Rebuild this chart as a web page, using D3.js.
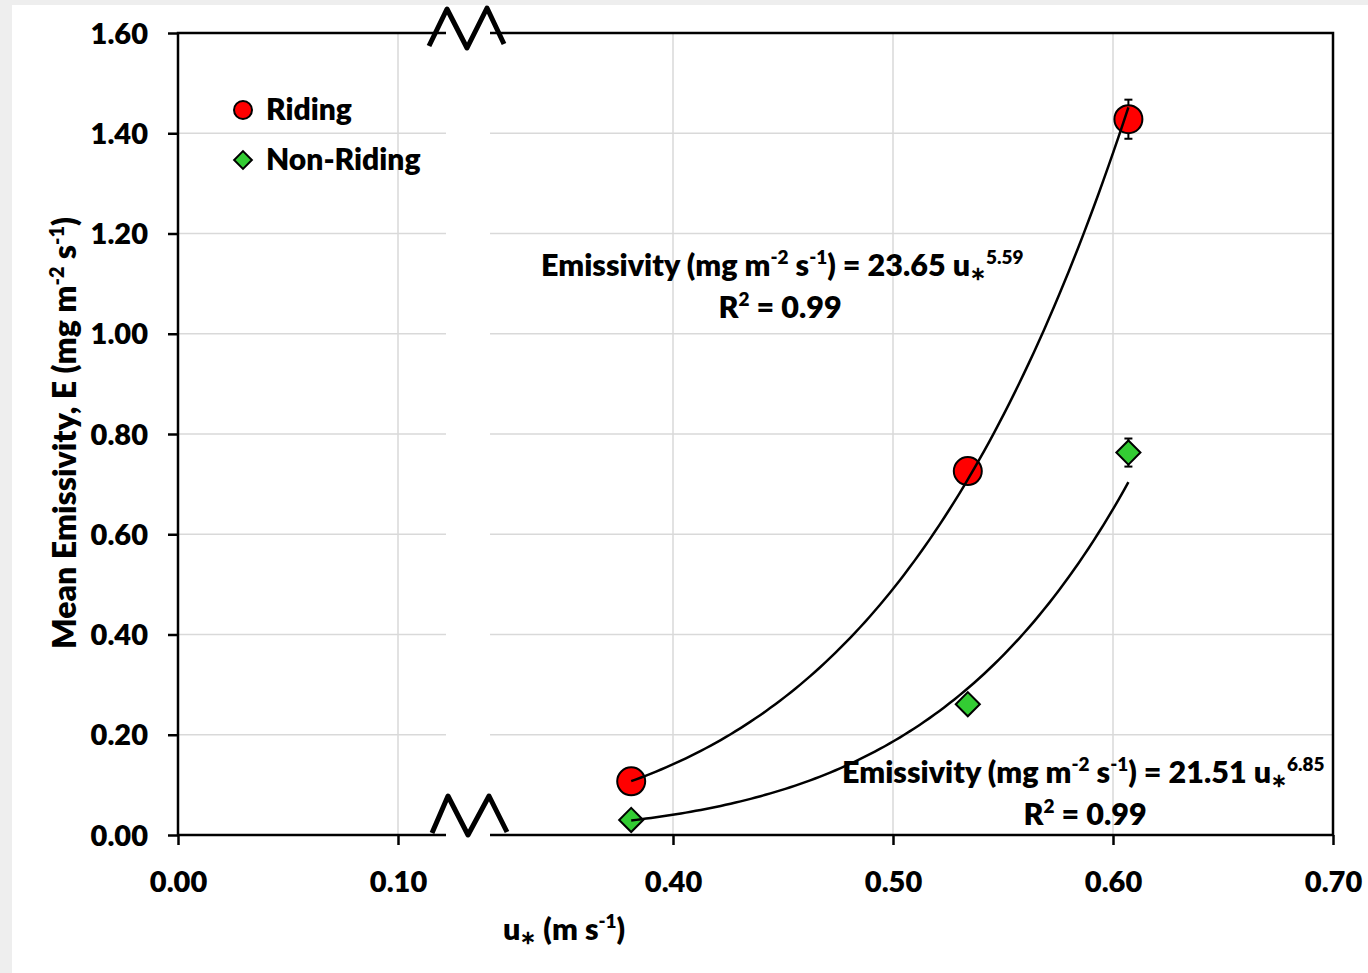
<!DOCTYPE html>
<html>
<head>
<meta charset="utf-8">
<script src="https://cdn.jsdelivr.net/npm/d3@7"></script>
<style>
  body { margin: 0; background: #eeeeee; }
  svg { display: block; }
  text { font-family: Lato, "Open Sans", sans-serif; font-weight: 800; fill: #000; }
</style>
</head>
<body>
<svg id="chart" width="1368" height="973"></svg>
<script>
// data
var ridingU = [0.381, 0.534, 0.607];
var ridingE = [0.107, 0.726, 1.428];
var ridingErr = [0, 0, 0.039];
var nonRidingU = [0.381, 0.534, 0.607];
var nonRidingE = [0.030, 0.261, 0.763];
var nonRidingErr = [0, 0, 0.028];
// power fits E = a * u^b
var ridingFit = [23.65, 5.59];
var nonRidingFit = [21.51, 6.85];
var xTicks = [0, 0.1, 0.4, 0.5, 0.6, 0.7];
var yTicks = [0, 0.2, 0.4, 0.6, 0.8, 1.0, 1.2, 1.4, 1.6];

var svg = d3.select("#chart");
var plotL = 178, plotR = 1333, plotT = 33, plotB = 835;

// white panel on the gray page
svg.append("rect").attr("x", 12).attr("y", 5).attr("width", 1356).attr("height", 968).attr("fill", "#fff");

// broken x axis: 0-0.1, squeezed break, then 0.3-0.7 at the same scale as the first part
var x = d3.scaleLinear().domain([0, 0.1, 0.3, 0.7]).range([plotL, 398, 453, plotR]);
var y = d3.scaleLinear().domain([0, 1.6]).range([plotB, plotT]);

// gridlines
svg.append("g").selectAll("line").data(xTicks.slice(1, -1)).join("line")
    .attr("x1", d => x(d)).attr("x2", d => x(d)).attr("y1", plotT).attr("y2", plotB)
    .attr("stroke", "#d9d9d9").attr("stroke-width", 1.5);
svg.append("g").selectAll("line").data(yTicks.slice(1, -1)).join("line")
    .attr("x1", plotL).attr("x2", plotR).attr("y1", d => y(d)).attr("y2", d => y(d))
    .attr("stroke", "#d9d9d9").attr("stroke-width", 1.5);

// frame
svg.append("rect").attr("x", plotL).attr("y", plotT).attr("width", plotR - plotL).attr("height", plotB - plotT)
    .attr("fill", "none").attr("stroke", "#000").attr("stroke-width", 2.5);

// axes
var yAxis = d3.axisLeft(y).tickValues(yTicks).tickFormat(d3.format(".2f")).tickSize(10).tickPadding(20);
var gy = svg.append("g").attr("transform", "translate(" + plotL + ",0)").call(yAxis);
var xAxis = d3.axisBottom(x).tickValues(xTicks).tickFormat(d3.format(".2f")).tickSize(10).tickPadding(22);
var gx = svg.append("g").attr("transform", "translate(0," + plotB + ")").call(xAxis);
[gy, gx].forEach(function(g) {
    g.select(".domain").remove();
    g.selectAll("line").attr("stroke", "#000").attr("stroke-width", 2.5);
    g.selectAll("text").style("font-size", "29px").style("font-family", "Lato").style("font-weight", "800");
});
gx.selectAll("text").attr("dy", "0.85em");
gy.selectAll("text").attr("dy", "0.35em");

// break gap
svg.append("rect").attr("x", 446).attr("y", plotT - 3).attr("width", 44).attr("height", plotB - plotT + 6).attr("fill", "#fff");
var zig = d3.line();
svg.append("path").attr("d", zig([[429, 46], [447, 9], [467, 48], [487, 8], [504, 44]]))
    .attr("fill", "none").attr("stroke", "#000").attr("stroke-width", 5).attr("stroke-linejoin", "round");
svg.append("path").attr("d", zig([[432, 833], [448, 796], [468, 835], [489, 796], [507, 832]]))
    .attr("fill", "none").attr("stroke", "#000").attr("stroke-width", 5).attr("stroke-linejoin", "round");

// error bars
function errorBars(us, es, errs) {
    var g = svg.append("g").attr("stroke", "#000").attr("stroke-width", 2);
    us.forEach(function(u, i) {
        if (!errs[i]) return;
        var cx = x(u);
        g.append("line").attr("x1", cx).attr("x2", cx).attr("y1", y(es[i] - errs[i])).attr("y2", y(es[i] + errs[i]));
        g.append("line").attr("x1", cx - 4).attr("x2", cx + 4).attr("y1", y(es[i] - errs[i])).attr("y2", y(es[i] - errs[i]));
        g.append("line").attr("x1", cx - 4).attr("x2", cx + 4).attr("y1", y(es[i] + errs[i])).attr("y2", y(es[i] + errs[i]));
    });
}
errorBars(ridingU, ridingE, ridingErr);
errorBars(nonRidingU, nonRidingE, nonRidingErr);

// markers
var diamond = d3.symbol().type(d3.symbolDiamond2).size(370);
svg.append("g").selectAll("circle").data(ridingU).join("circle")
    .attr("cx", d => x(d)).attr("cy", (d, i) => y(ridingE[i])).attr("r", 14)
    .attr("fill", "#ff0000").attr("stroke", "#000").attr("stroke-width", 2);
svg.append("g").selectAll("path").data(nonRidingU).join("path")
    .attr("d", diamond)
    .attr("transform", (d, i) => "translate(" + x(d) + "," + y(nonRidingE[i]) + ")")
    .attr("fill", "#33cc33").attr("stroke", "#000").attr("stroke-width", 2);

// trendlines
function fitLine(us, fit) {
    var u0 = d3.min(us), u1 = d3.max(us);
    var pts = d3.range(0, 101).map(function(k) {
        var u = u0 + (u1 - u0) * k / 100;
        return [x(u), y(fit[0] * Math.pow(u, fit[1]))];
    });
    svg.append("path").attr("d", d3.line()(pts)).attr("fill", "none").attr("stroke", "#000").attr("stroke-width", 2.5);
}
fitLine(ridingU, ridingFit);
fitLine(nonRidingU, nonRidingFit);

// legend
svg.append("circle").attr("cx", 243).attr("cy", 110).attr("r", 9).attr("fill", "#ff0000").attr("stroke", "#000").attr("stroke-width", 2);
svg.append("path").attr("d", d3.symbol().type(d3.symbolDiamond2).size(200))
    .attr("transform", "translate(243,160)").attr("fill", "#33cc33").attr("stroke", "#000").attr("stroke-width", 2);
svg.append("text").attr("x", 266).attr("y", 120).style("font-size", "30px").text("Riding");
svg.append("text").attr("x", 266).attr("y", 170).style("font-size", "30px").text("Non-Riding");

// text with superscripts: parts = [[text, kind]] kind: 0 normal, 1 sup, 2 sub
function richText(xp, yp, size, anchor, parts, transform) {
    var t = svg.append("text").attr("x", xp).attr("y", yp).attr("text-anchor", anchor).style("font-size", size + "px");
    if (transform) t.attr("transform", transform);
    var shift = 0;
    parts.forEach(function(p) {
        var target = p[1] === 1 ? -0.38 * size : (p[1] === 2 ? 0.12 * size : 0);
        t.append("tspan").attr("dy", target - shift)
            .style("font-size", (p[1] ? size * 0.62 : size) + "px").text(p[0]);
        shift = target;
    });
    return t;
}

richText(541, 276, 30.5, "start", [["Emissivity (mg m", 0], ["-2", 1], [" s", 0], ["-1", 1], [") = 23.65 u", 0], ["\u2217", 2], ["5.59", 1]]);
richText(780, 318, 30.5, "middle", [["R", 0], ["2", 1], [" = 0.99", 0]]);
richText(842, 783, 30.5, "start", [["Emissivity (mg m", 0], ["-2", 1], [" s", 0], ["-1", 1], [")  = 21.51 u", 0], ["\u2217", 2], ["6.85", 1]]);
richText(1085, 825, 30.5, "middle", [["R", 0], ["2", 1], [" = 0.99", 0]]);

// axis titles
richText(564, 940, 30.5, "middle", [["u", 0], ["\u2217", 2], [" (m s", 0], ["-1", 1], [")", 0]]);
richText(0, 0, 32, "middle", [["Mean Emissivity, E (mg m", 0], ["-2", 1], [" s", 0], ["-1", 1], [")", 0]],
    "translate(76,433) rotate(-90)");
</script>
</body>
</html>
